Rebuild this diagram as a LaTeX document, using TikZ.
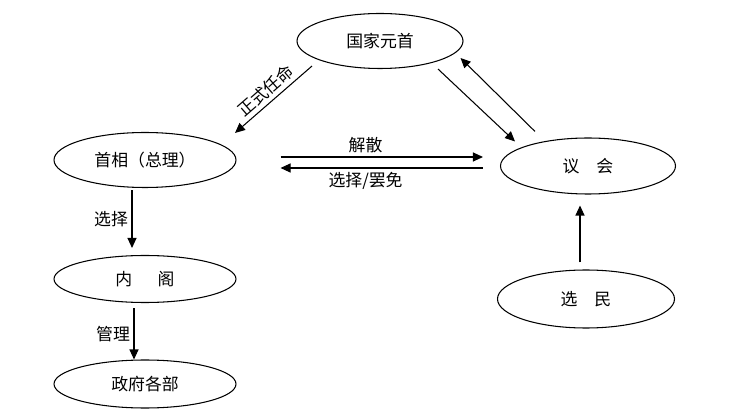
\documentclass[tikz,border=0pt]{standalone}
\usepackage{fontspec}
\newfontfamily\cjk{Noto Sans CJK SC}
\usetikzlibrary{shapes.geometric, arrows.meta, calc}

\begin{document}
\begin{tikzpicture}[x=0.02cm, y=-0.02cm,
    role/.style={ellipse, draw, line width=0.6pt, inner sep=0pt, font=\cjk\fontsize{9.6}{11}\selectfont},
    arr/.style={-{Triangle[length=2mm, width=1.8mm]}, line width=0.6pt},
    lbl/.style={font=\cjk\fontsize{9.6}{11}\selectfont, inner sep=2pt}]

    \useasboundingbox (0,0) rectangle (750,418);

    % Head of state at the top
    \node[role, minimum width=166*0.02cm, minimum height=55*0.02cm] (head) at (380,41) {国家元首};

    % Left column: prime minister, cabinet, departments
    \node[role, minimum width=182*0.02cm, minimum height=55*0.02cm] (pm) at (145,160) {首相（总理）};
    \node[role, minimum width=182*0.02cm, minimum height=47*0.02cm] (cab) at (145,279) {内\hspace{1.5em}阁};
    \node[role, minimum width=182*0.02cm, minimum height=48*0.02cm] (dept) at (145,384) {政府各部};

    % Right column: parliament and voters
    \node[role, minimum width=175*0.02cm, minimum height=56*0.02cm] (parl) at (588,166) {议\hspace{1em}会};
    \node[role, minimum width=177*0.02cm, minimum height=58*0.02cm] (vot) at (586,299) {选\hspace{1em}民};

    % Arrows down the left column
    \draw[arr] ($(pm.south)+(-13,2)$) -- node[lbl, left] (l1) {选择} ($(cab.north)+(-13,-7)$);
    \draw[arr] ($(cab.south)+(-11,5)$) -- node[lbl, left] (l2) {管理} ($(dept.north)+(-11,0)$);

    % Voters up to parliament
    \draw[arr] ($(vot.north)+(-6,-7)$) -- ($(parl.south)+(-8,11)$);

    % Head of state with the others
    \draw[arr] ($(head.south)+(-68,-3)$) -- node[lbl, midway, sloped, above] (l3) {正式任命} ($(pm.north)+(90,1)$);
    \draw[arr] ($(head.south)+(58,0)$) -- ($(parl.north)+(-73,4)$);
    \draw[arr] ($(parl.north)+(-53,-6)$) -- ($(head.east)+(-3,17)$);

    % Prime minister and parliament
    \draw[arr] ($(pm.east)+(44,-3)$) -- node[lbl, pos=0.42, above] (l4) {解散} ($(parl.west)+(-17,-9)$);
    \draw[arr] ($(parl.west)+(-17,2)$) -- node[lbl, pos=0.58, below] (l5) {选择/罢免} ($(pm.east)+(44,8)$);

\end{tikzpicture}
\end{document}
